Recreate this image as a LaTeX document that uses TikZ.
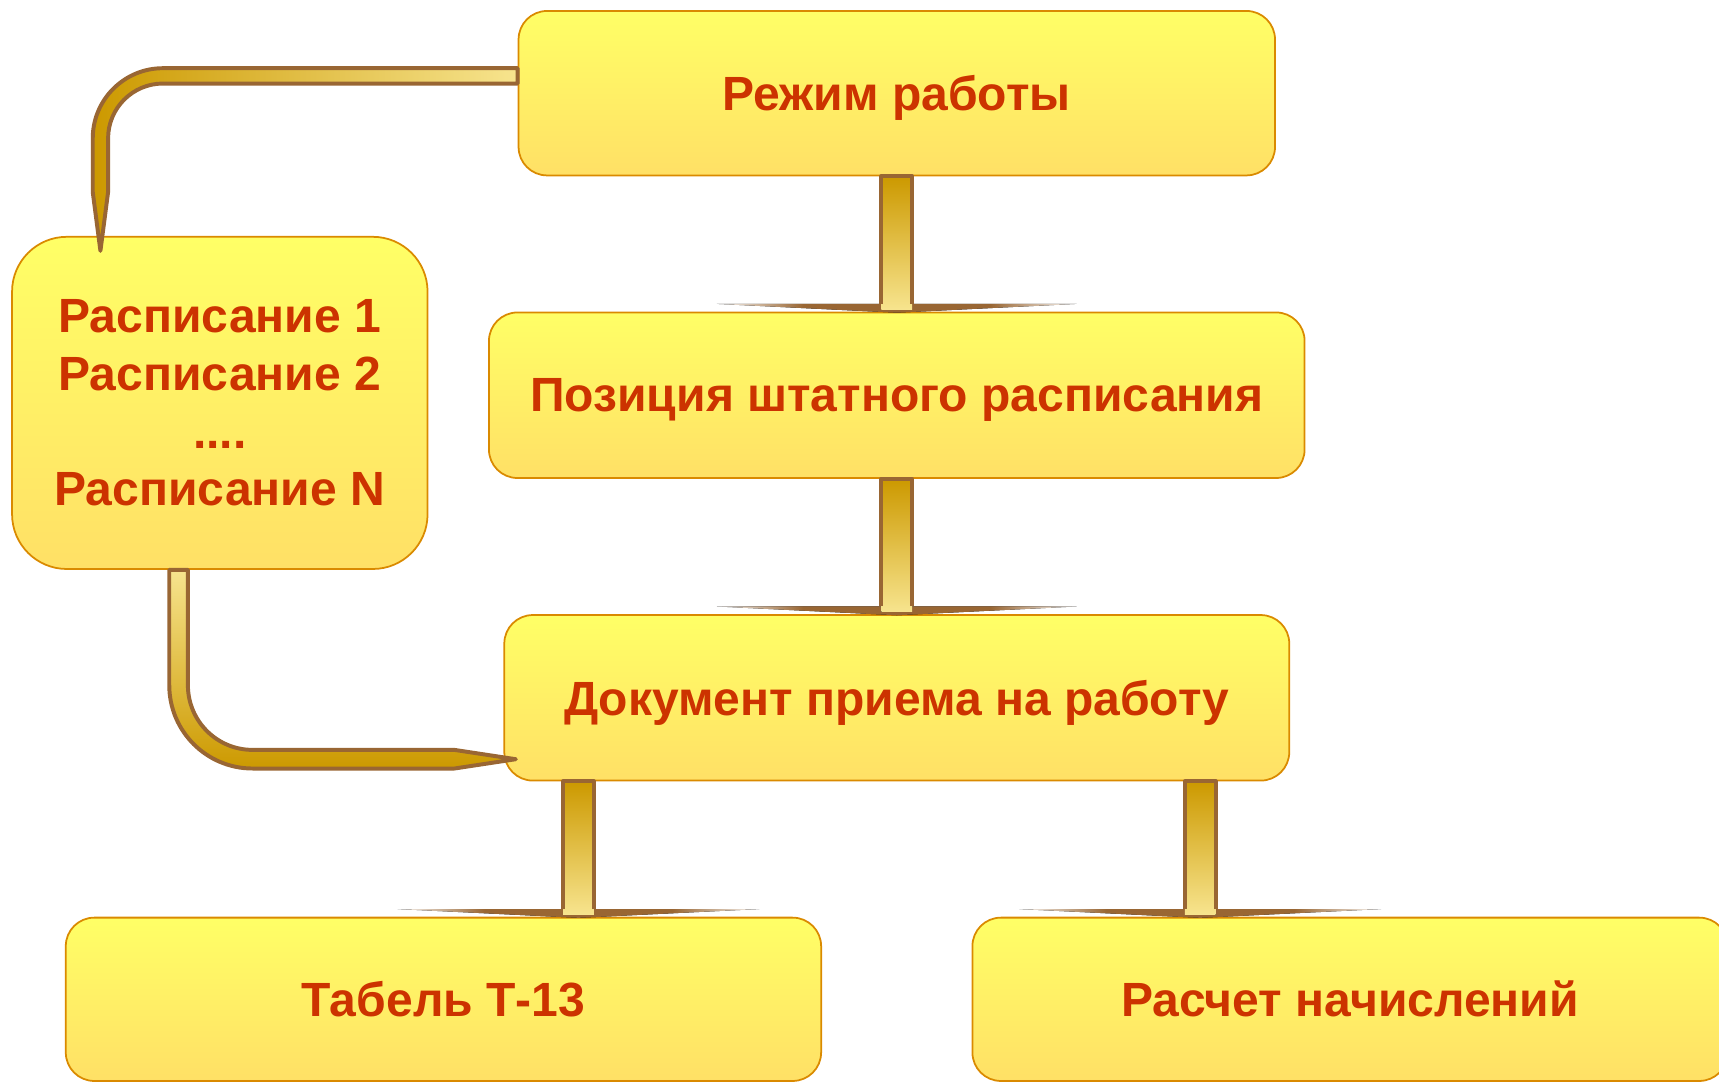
\documentclass[tikz,border=0pt]{standalone}
\usepackage{fontspec}
\setmainfont{Liberation Sans}
\usetikzlibrary{calc}
\definecolor{txt}{HTML}{CC3300}
\definecolor{boxtop}{HTML}{FFFF66}
\definecolor{boxbot}{HTML}{FFE066}
\definecolor{boxline}{HTML}{DA8A00}
\definecolor{brn}{HTML}{996633}
\definecolor{gold}{HTML}{CC9900}
\definecolor{pale}{HTML}{F7E48E}
\pgfdeclarehorizontalshading{headshade}{100bp}{color(0bp)=(brn!5); color(25bp)=(brn!5); color(37bp)=(brn); color(63bp)=(brn); color(75bp)=(brn!5); color(100bp)=(brn!5)}
\tikzset{
  box/.style={rectangle, rounded corners=13pt, draw=boxline, line width=0.8pt,
    top color=boxtop, bottom color=boxbot, inner sep=0pt,
    font=\fontsize{21.9}{26.3}\selectfont\bfseries, text=txt, align=center},
  oneline/.style={text depth=0pt},
  shaft/.style={top color=gold, bottom color=pale},
  rim/.style={draw=brn, line width=1.8pt, line join=round},
}
\newcommand\vconn[3]{%
  \fill[shading=headshade] ($(#2)+(-#3,-7)$) -- ($(#2)+(#3,-7)$) -- ($(#2)+(0,1)$) -- cycle;
  \fill[shaft] ($(#1)+(-14,0)$) rectangle ($(#2)+(14,-2)$);
  \draw[rim] ($(#2)+(-14,-7)$) -- ($(#1)+(-14,0)$) -- ($(#1)+(14,0)$) -- ($(#2)+(14,-7)$);
}
\begin{document}
\begin{tikzpicture}[x=0.5pt,y=-0.5pt]
\path[use as bounding box, clip] (0,0) rectangle (1568,987);
% boxes
\node[box, oneline, minimum width=345pt, minimum height=75pt] (n1) at (818,85) {Режим работы};
\node[box, oneline, minimum width=372pt, minimum height=75.5pt] (n2) at (818,360.5) {Позиция штатного расписания};
\node[box, oneline, minimum width=358pt, minimum height=75.5pt] (n3) at (818,636.5) {Документ приема на работу};
\node[box, rounded corners=25pt, minimum width=189.5pt, minimum height=151.5pt] (n4) at (200.5,367.5)
  {Расписание 1\\Расписание 2\\....\\Расписание N};
\node[box, minimum width=344.5pt, minimum height=74.5pt] (n5) at (404.5,911.5) {Табель Т-13};
\node[box, minimum width=344.5pt, minimum height=74.5pt] (n6) at (1231.5,911.5) {Расчет начислений};
% straight connectors
\coordinate (a1t) at (n1.south);
\coordinate (a1b) at (n2.north);
\coordinate (a2t) at (n2.south);
\coordinate (a2b) at (n3.north);
\coordinate (a3t) at ($(n3.south west)+(68.5,0)$);
\coordinate (a3b) at (a3t |- n5.north);
\coordinate (a4t) at ($(n3.south east)+(-82,0)$);
\coordinate (a4b) at (a4t |- n6.north);
\vconn{a1t}{a1b}{164}
\vconn{a2t}{a2b}{164}
\vconn{a3t}{a3b}{165}
\vconn{a4t}{a4b}{165}
% curved connector n1 -> n4
\coordinate (c1s) at ($(n1.north west)+(0,60)$);
\coordinate (c1e) at ($(n4.north west)+(81.4,13.6)$);
\coordinate (K) at (c1e |- c1s);
\path[rim, left color=gold, right color=pale]
  ($(c1s)+(0,-7)$) -- ($(K)+(57,-7)$)
  .. controls ($(K)+(21.65,-7)$) and ($(K)+(-7,21.65)$) .. ($(K)+(-7,57)$)
  -- ($(c1e)+(-7,-53.6)$) -- (c1e) -- ($(c1e)+(7,-53.6)$)
  -- ($(K)+(7,57)$)
  .. controls ($(K)+(7,29.4)$) and ($(K)+(29.4,7)$) .. ($(K)+(57,7)$)
  -- ($(c1s)+(0,7)$) -- cycle;
% curved connector n4 -> n3
\coordinate (c2s) at ($(n4.south west)+(152.7,0)$);
\coordinate (c2e) at ($(n3.south west)+(11.3,-20.3)$);
\coordinate (K2) at (c2s |- c2e);
\path[rim, top color=pale, bottom color=gold]
  ($(c2s)+(-8.5,0)$) -- ($(K2)+(-8.5,-67.5)$)
  .. controls ($(K2)+(-8.5,-25.5)$) and ($(K2)+(25.5,8.5)$) .. ($(K2)+(67.5,8.5)$)
  -- ($(c2e)+(-56,8.5)$) -- (c2e) -- ($(c2e)+(-56,-8.5)$)
  -- ($(K2)+(67.5,-8.5)$)
  .. controls ($(K2)+(34.9,-8.5)$) and ($(K2)+(8.5,-34.9)$) .. ($(K2)+(8.5,-67.5)$)
  -- ($(c2s)+(8.5,0)$) -- cycle;
\end{tikzpicture}
\end{document}
